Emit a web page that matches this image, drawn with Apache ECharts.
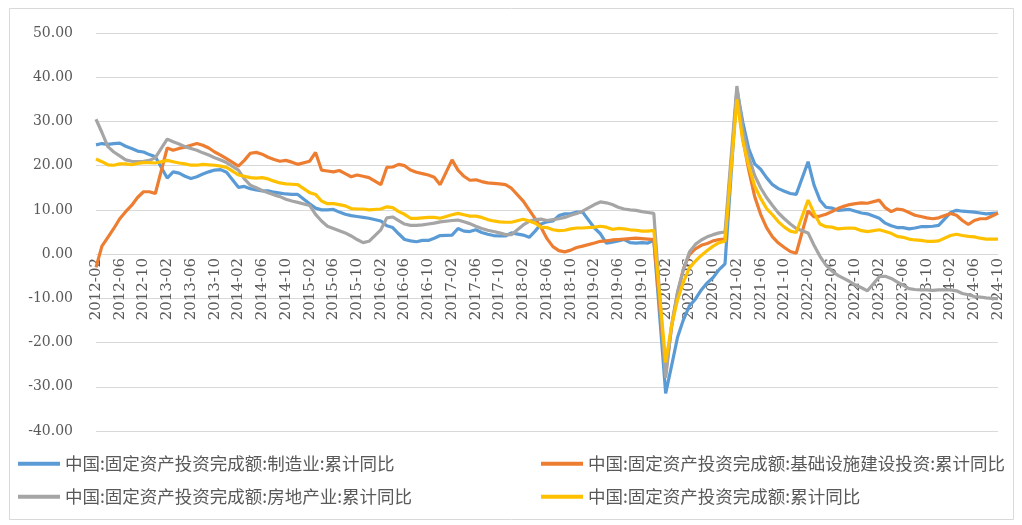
<!DOCTYPE html>
<html>
<head>
<meta charset="utf-8">
<script src="https://cdn.jsdelivr.net/npm/echarts@6/dist/echarts.min.js"></script>
<style>
  html, body { margin: 0; padding: 0; background: #fff; }
  #echartDemo { width: 1022px; height: 525px; }
</style>
</head>
<body>
<div id="echartDemo"></div>
<script>
// 月份 2012-02 ~ 2024-10（1月无数据，用 null）
var categories = [];
for (var y = 2012; y <= 2024; y++) {
  for (var m = 1; m <= 12; m++) {
    if (y === 2012 && m < 2) continue;
    if (y === 2024 && m > 10) break;
    categories.push(y + '-' + (m < 10 ? '0' + m : m));
  }
}

var yTicks = [-40, -30, -20, -10, 0, 10, 20, 30, 40, 50];

// 制造业:累计同比
var manufacturing = [
  24.7, 25.0, 24.8, 25.0, 25.1, 24.4, 23.9, 23.3, 23.1, 22.5, 22.0,
  null, 17.2, 18.6, 18.3, 17.6, 17.1, 17.5, 18.1, 18.6, 19.0, 19.1, 18.5,
  null, 15.1, 15.3, 14.8, 14.5, 14.3, 14.3, 14.0, 13.8, 13.6, 13.5, 13.5,
  null, 11.4, 10.4, 10.0, 10.0, 10.1, 9.5, 9.0, 8.7, 8.5, 8.3, 8.1,
  null, 7.5, 6.4, 6.0, 4.6, 3.3, 3.0, 2.8, 3.1, 3.1, 3.6, 4.2,
  null, 4.3, 5.8, 5.2, 5.1, 5.5, 4.9, 4.5, 4.2, 4.1, 4.1, 4.8,
  null, 4.3, 3.8, 5.2, 6.8, 7.3, 7.5, 8.7, 9.1, 9.1, 9.5, 9.5,
  null, 5.9, 4.6, 2.5, 2.7, 3.0, 3.3, 2.6, 2.5, 2.6, 2.5, 3.1,
  null, -31.5, -25.2, -18.8, -14.8, -11.7, -10.2, -8.1, -6.5, -5.3, -3.5, -2.2,
  null, 37.3, 29.8, 23.8, 20.4, 19.2, 17.3, 15.7, 14.8, 14.2, 13.7, 13.5,
  null, 20.9, 15.6, 12.2, 10.6, 10.4, 9.9, 10.0, 10.1, 9.7, 9.3, 9.1,
  null, 8.1, 7.0, 6.4, 6.0, 6.0, 5.7, 5.9, 6.2, 6.2, 6.3, 6.5,
  null, 9.4, 9.9, 9.7, 9.6, 9.5, 9.3, 9.1, 9.2, 9.3
];

// 基础设施建设投资:累计同比
var infrastructure = [
  -3.0, 1.8, 3.8, 5.8, 8.0, 9.6, 11.0, 12.8, 14.1, 14.1, 13.7,
  null, 24.0, 23.5, 23.9, 24.2, 24.6, 25.0, 24.6, 24.0, 23.1, 22.4, 21.6,
  null, 19.9, 21.2, 22.8, 23.0, 22.6, 21.9, 21.4, 21.0, 21.2, 20.8, 20.3,
  null, 21.0, 23.0, 19.0, 18.8, 18.6, 18.9, 18.2, 17.5, 17.9, 17.6, 17.3,
  null, 15.7, 19.6, 19.7, 20.3, 20.0, 19.0, 18.5, 18.2, 17.9, 17.4, 15.7,
  null, 21.3, 19.0, 17.6, 16.7, 16.8, 16.4, 16.1, 16.0, 15.9, 15.7, 14.9,
  null, 12.0, 10.0, 8.0, 6.0, 3.5, 1.7, 0.8, 0.5, 0.9, 1.5, 1.8,
  null, 2.5, 2.9, 3.0, 3.2, 3.3, 3.4, 3.5, 3.6, 3.5, 3.4, 3.3,
  null, -26.9, -16.4, -8.8, -3.3, -0.1, 1.2, 2.0, 2.4, 3.0, 3.3, 3.4,
  null, 36.6, 26.0, 19.0, 13.0, 9.0, 6.0, 3.9, 2.5, 1.5, 0.6, 0.2,
  null, 9.8, 8.4, 8.6, 9.0, 9.6, 10.3, 10.8, 11.2, 11.4, 11.6, 11.5,
  null, 12.2, 10.5, 9.6, 10.2, 10.0, 9.4, 8.8, 8.5, 8.2, 8.0, 8.2,
  null, 9.2, 8.8, 7.6, 6.7, 7.6, 8.0, 8.0, 8.6, 9.3
];

// 房地产业:累计同比
var realEstate = [
  30.5, 27.5, 24.3, 23.1, 22.2, 21.3, 21.0, 20.9, 21.0, 21.2, 21.8,
  null, 26.0, 25.4, 24.9, 24.3, 23.9, 23.5, 22.9, 22.4, 21.8, 21.3, 20.7,
  null, 19.0, 17.0, 15.6, 15.0, 14.4, 13.9, 13.4, 13.0, 12.4, 12.0, 11.7,
  null, 11.0, 9.0, 7.5, 6.3, 5.8, 5.3, 4.8, 4.1, 3.3, 2.6, 2.9,
  null, 5.5, 8.2, 8.4, 7.6, 6.8, 6.5, 6.5, 6.6, 6.8, 7.0, 7.3,
  null, 7.6, 7.7, 7.3, 6.9, 6.3, 5.8, 5.4, 5.1, 4.8, 4.4, 4.4,
  null, 6.6, 7.4, 7.8, 7.9, 7.6, 7.8, 8.0, 8.3, 8.8, 9.2, 9.7,
  null, 11.2, 11.8, 11.6, 11.2, 10.6, 10.2, 10.0, 9.9, 9.6, 9.4, 9.2,
  null, -28.0, -16.0, -8.5, -3.5, 0.5, 2.2, 3.2, 3.9, 4.4, 4.8, 5.0,
  null, 38.0, 28.0, 22.0, 17.8, 15.0, 12.8, 11.0, 9.3, 8.0, 6.8, 5.8,
  null, 4.8, 2.0, -0.5, -2.5, -3.8, -4.8, -5.5, -6.2, -7.0, -7.6, -8.3,
  null, -5.1, -5.0, -5.5, -6.3, -7.0, -7.8, -8.0, -8.1, -8.1, -8.2, -8.1,
  null, -8.1, -8.3, -8.9, -9.2, -9.6, -9.7, -9.9, -10.0, -10.1
];

// 固定资产投资完成额:累计同比
var total = [
  21.5, 20.9, 20.2, 20.1, 20.4, 20.4, 20.2, 20.5, 20.7, 20.7, 20.6,
  null, 21.2, 20.9, 20.6, 20.4, 20.1, 20.1, 20.3, 20.2, 20.1, 19.9, 19.6,
  null, 17.9, 17.6, 17.3, 17.2, 17.3, 17.0, 16.5, 16.1, 15.9, 15.8, 15.7,
  null, 13.9, 13.5, 12.0, 11.4, 11.4, 11.2, 10.9, 10.3, 10.2, 10.2, 10.0,
  null, 10.2, 10.7, 10.5, 9.6, 9.0, 8.1, 8.1, 8.2, 8.3, 8.3, 8.1,
  null, 8.9, 9.2, 8.9, 8.6, 8.6, 8.3, 7.8, 7.5, 7.3, 7.2, 7.2,
  null, 7.9, 7.5, 7.0, 6.1, 6.0, 5.5, 5.3, 5.4, 5.7, 5.9, 5.9,
  null, 6.1, 6.3, 6.1, 5.6, 5.8, 5.7, 5.5, 5.4, 5.2, 5.2, 5.4,
  null, -24.5, -16.1, -10.3, -6.3, -3.1, -1.6, -0.3, 0.8, 1.8, 2.6, 2.9,
  null, 35.0, 25.6, 19.9, 15.4, 12.6, 10.3, 8.9, 7.3, 6.1, 5.2, 4.9,
  null, 12.2, 9.3, 6.8, 6.2, 6.1, 5.7, 5.8, 5.9, 5.8, 5.3, 5.1,
  null, 5.5, 5.1, 4.7, 4.0, 3.8, 3.4, 3.2, 3.1, 2.9, 2.9, 3.0,
  null, 4.2, 4.5, 4.2, 4.0, 3.9, 3.6, 3.4, 3.4, 3.4
];

var names = [
  '中国:固定资产投资完成额:制造业:累计同比',
  '中国:固定资产投资完成额:基础设施建设投资:累计同比',
  '中国:固定资产投资完成额:房地产业:累计同比',
  '中国:固定资产投资完成额:累计同比'
];
var colors = ['#5B9BD5', '#ED7D31', '#A5A5A5', '#FFC000'];
var seriesData = [manufacturing, infrastructure, realEstate, total];

// 图例位置（两行两列）
var legendPos = [
  { left: 18, top: 455 },
  { left: 541, top: 455 },
  { left: 18, top: 488 },
  { left: 541, top: 488 }
];

var chart = echarts.init(document.getElementById('echartDemo'));

var option = {
  animation: false,
  color: colors,
  graphic: [{
    type: 'rect',
    shape: { x: 9.5, y: 8.5, width: 1004, height: 511 },
    style: { fill: 'none', stroke: '#d9d9d9', lineWidth: 1 }
  }],
  legend: names.map(function (n, i) {
    return {
      data: [{ name: n, icon: 'rect' }],
      left: legendPos[i].left,
      top: legendPos[i].top,
      padding: 0,
      itemWidth: 42,
      itemHeight: 4,
      itemGap: 0,
      itemStyle: { borderWidth: 0 },
      textStyle: {
        color: '#595959',
        fontSize: 17.5,
        fontFamily: 'Noto Sans CJK SC'
      }
    };
  }),
  grid: {
    left: 96,
    right: 24,
    top: 33,
    bottom: 94,
    containLabel: false
  },
  xAxis: {
    type: 'category',
    data: categories,
    boundaryGap: false,
    // 横轴放在 0 刻度处（网格内向上偏移）
    offset: -177,
    axisLine: { onZero: false, lineStyle: { color: '#d9d9d9', width: 1 } },
    axisTick: { show: false },
    axisLabel: {
      interval: 3,
      rotate: 90,
      margin: 4,
      color: '#595959',
      fontSize: 15,
      fontFamily: 'DejaVu Serif'
    },
    splitLine: { show: false }
  },
  yAxis: {
    type: 'value',
    min: yTicks[0],
    max: yTicks[yTicks.length - 1],
    interval: 10,
    axisLine: { show: false },
    axisTick: { show: false },
    axisLabel: {
      margin: 23,
      color: '#595959',
      fontSize: 14,
      fontFamily: 'DejaVu Serif',
      formatter: function (v) { return v.toFixed(2); }
    },
    splitLine: { lineStyle: { color: '#d9d9d9', width: 1 } }
  },
  series: names.map(function (n, i) {
    return {
      name: n,
      type: 'line',
      data: seriesData[i],
      connectNulls: true,
      showSymbol: false,
      symbol: 'none',
      lineStyle: { width: 3.2, color: colors[i] },
      itemStyle: { color: colors[i] }
    };
  })
};

chart.setOption(option);
</script>
</body>
</html>
